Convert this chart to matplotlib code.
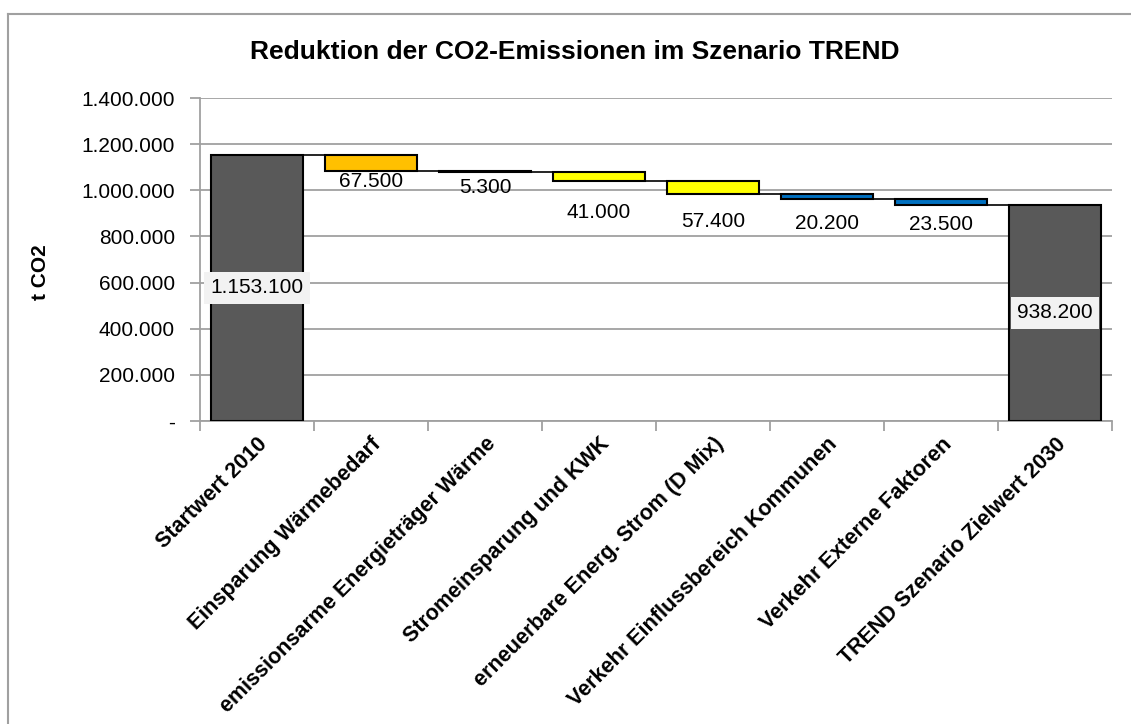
import numpy as np
import matplotlib.pyplot as plt
from matplotlib.lines import Line2D

plt.rcParams["font.family"] = ["Liberation Sans", "DejaVu Sans"]

# waterfall data (t CO2)
categories = [
    "Startwert 2010",
    "Einsparung Wärmebedarf",
    "emissionsarme Energieträger Wärme",
    "Stromeinsparung und KWK",
    "erneuerbare Energ. Strom (D Mix)",
    "Verkehr Einflussbereich Kommunen",
    "Verkehr Externe Faktoren",
    "TREND Szenario Zielwert 2030",
]
start_value = 1153100
reductions = [67500, 5300, 41000, 57400, 20200, 23500]
end_value = 938200
bar_colors = ["#595959", "#FFC000", "#FFC000", "#FFFF00", "#FFFF00", "#0070C0", "#0070C0", "#595959"]

# label offsets below each reduction bar (pixels)
label_offsets = [11, 16, 31, 27, 24, 20]


def fmt_de(v):
    if v == 0:
        return "-"
    return f"{int(v):,}".replace(",", ".")


fig = plt.figure(figsize=(11.31, 7.24), dpi=100)
ax = fig.add_axes([200 / 1131, 1 - 421 / 724, 912 / 1131, 323 / 724])

# bottoms and heights of the floating bars
levels = start_value - np.cumsum([0] + reductions)
bottoms = [0] + list(levels[1:]) + [0]
heights = [start_value] + reductions + [end_value]
x = np.arange(len(categories))

ax.bar(x, heights, bottom=bottoms, width=0.8, color=bar_colors,
       edgecolor="black", linewidth=1.5, zorder=3)

# connector lines between bars
for i in range(len(categories) - 1):
    level = levels[i] if i < len(levels) else end_value
    ax.plot([x[i] + 0.4, x[i + 1] - 0.4], [level, level], color="black", lw=1.2, zorder=4)

# reduction labels below bars
for i, (val, off) in enumerate(zip(reductions, label_offsets), start=1):
    ax.annotate(fmt_de(val), xy=(x[i], bottoms[i]), xytext=(0, -off),
                textcoords="offset pixels", ha="center", va="center",
                fontsize=15, zorder=5)

# start / end labels in boxes
for i, val in [(0, start_value), (len(categories) - 1, end_value)]:
    ax.text(x[i], val / 2, fmt_de(val), ha="center", va="center", fontsize=15, zorder=5,
            bbox=dict(boxstyle="square,pad=0.3", facecolor="#F2F2F2", edgecolor="none"))

ax.set_xlim(-0.5, len(categories) - 0.5)
ax.set_ylim(0, 1400000)
yt = np.arange(0, 1400001, 200000)
ax.set_yticks(yt)
ax.set_yticklabels([fmt_de(v) for v in yt], fontsize=15)
ax.yaxis.grid(True, color="#A0A0A0", linewidth=1.3, zorder=0)
ax.tick_params(axis="y", length=7, color="#A0A0A0", width=1.3, pad=11)

ax.set_xticks(x)
ax.set_xticklabels(categories, rotation=45, ha="right", va="top",
                   rotation_mode="anchor", fontsize=15.5, fontweight="bold")
ax.set_xticks(np.arange(-0.5, len(categories)), minor=True)
ax.tick_params(axis="x", which="major", length=0, pad=9)
ax.tick_params(axis="x", which="minor", length=7, color="#A0A0A0", width=1.3)

for s in ["top", "right"]:
    ax.spines[s].set_visible(False)
for s in ["left", "bottom"]:
    ax.spines[s].set_color("#A0A0A0")
    ax.spines[s].set_linewidth(1.3)
ax.set_axisbelow(True)

fig.text(575 / 1131, 1 - 52 / 724, "Reduktion der CO2-Emissionen im Szenario TREND",
         ha="center", va="center", fontsize=19, fontweight="bold")
fig.text(40 / 1131, 1 - 272 / 724, "t CO2", ha="center", va="center",
         rotation=90, fontsize=15, fontweight="bold")

# outer chart border (only left and top visible)
fig.add_artist(Line2D([8 / 1131, 8 / 1131], [0, 1 - 14 / 724], color="#A0A0A0", lw=1.5))
fig.add_artist(Line2D([8 / 1131, 1], [1 - 14 / 724, 1 - 14 / 724], color="#A0A0A0", lw=1.5))

fig.savefig("out.png", dpi=100)
